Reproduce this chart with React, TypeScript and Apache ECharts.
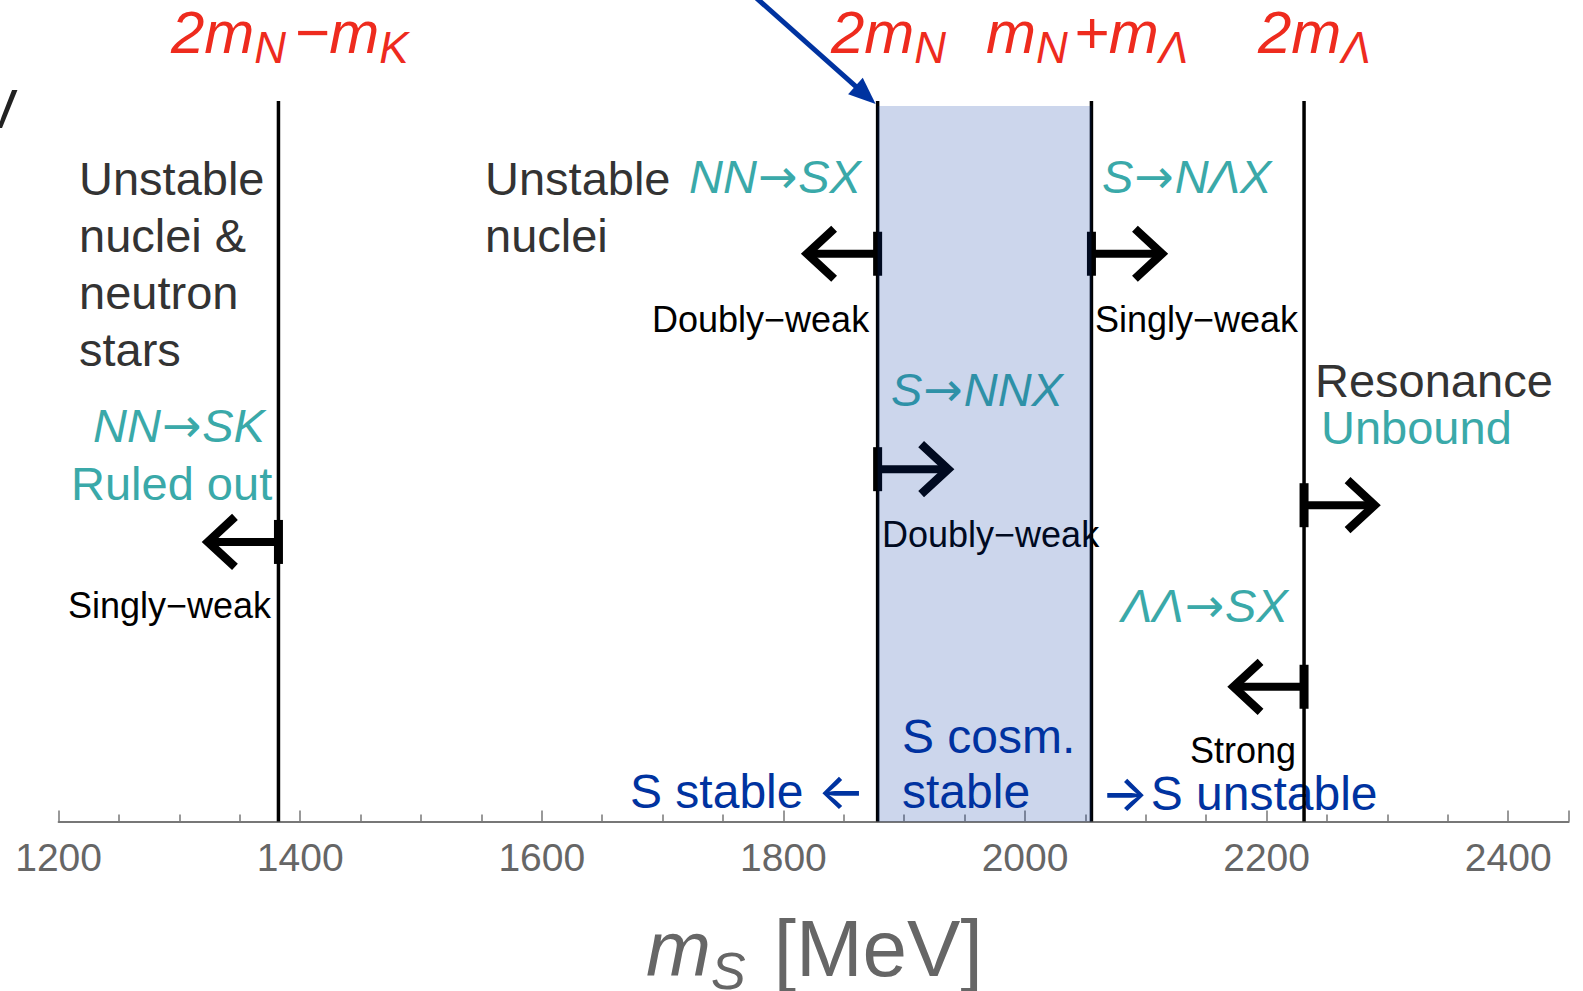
import React, { useEffect, useRef } from 'react';
import * as echarts from 'echarts';

const FONT = "'Liberation Sans', Arial, Helvetica, sans-serif";
const ARROW_FONT = "'DejaVu Sans', sans-serif";
const BIG_ARROW_FONT = "Inter, 'DejaVu Sans', sans-serif";

// ---- data ----
const X_MIN = 1200;
const X_MAX = 2450;
const X_STEP = 200;
const X_MINOR_SPLIT = 4;

// thresholds (MeV): 2mN-mK, 2mN, mN+mΛ, 2mΛ
const thresholdNames = ['2mN−mK', '2mN', 'mN+mΛ', '2mΛ'];
const thresholdMeV = [1382, 1878, 2055, 2231];

// cosmologically stable band (MeV)
const stableBand = [1878, 2055];
const bandTopLevel = 99.3; // percent of plot height

// boundary markers (|← or |→)
const markerMeV = [1382, 1878, 2055, 1878, 2231, 2231];
const markerLevel = [38.8, 78.8, 78.8, 48.9, 43.9, 18.7]; // percent of plot height
const markerDir = [-1, -1, 1, 1, 1, -1];

// ---- styles ----
const RED = '#EE2B1E';
const TEAL = '#3AA9A9';
const BLUE = '#0033A0';
const DARK = '#333333';
const GRAY = '#666666';
const CENTRAL = 0.3465;

let ctx: CanvasRenderingContext2D | null = null;
function measure(text: string, size: number, italic: boolean, family: string, weight = 'normal'): number {
  if (!ctx) ctx = document.createElement('canvas').getContext('2d');
  if (!ctx) return text.length * size * 0.55;
  ctx.font = `${italic ? 'italic ' : ''}${weight} ${size}px ${family}`;
  return ctx.measureText(text).width;
}

function txt(
  text: string, x: number, base: number, size: number, fill: string,
  italic = false, family = FONT, weight = 'normal',
) {
  return {
    type: 'text',
    x,
    y: base - CENTRAL * size,
    z: 1,
    silent: true,
    style: {
      text,
      fontSize: size,
      fontFamily: family,
      fontStyle: italic ? 'italic' : 'normal',
      fontWeight: weight,
      fill,
      align: 'left',
      verticalAlign: 'middle',
    },
  };
}

type Part = {
  t: string; size: number; dy?: number; italic?: boolean; gap?: number;
  family?: string; weight?: string;
};
function compose(parts: Part[], x0: number, base: number, fill: string) {
  let x = x0;
  const out: any[] = [];
  for (const p of parts) {
    x += p.gap || 0;
    const fam = p.family || FONT;
    const it = !!p.italic;
    const w = p.weight || 'normal';
    out.push(txt(p.t, x, base + (p.dy || 0), p.size, fill, it, fam, w));
    x += measure(p.t, p.size, it, fam, w);
  }
  return out;
}

// reaction label: italic letters with an upright arrow
function reaction(left: string, right: string, x0: number, base: number, size: number) {
  return compose([
    { t: left, size, italic: true },
    { t: '→', size, family: ARROW_FONT, gap: 1 },
    { t: right, size, italic: true, gap: 1 },
  ], x0, base, TEAL);
}

function buildGraphics() {
  const M = 60, S = 44, D = 10, B = 53;
  const red = (parts: Part[], x0: number) => compose(parts, x0, B, RED);
  const g: any[] = [];
  // threshold labels
  g.push(...red([
    { t: '2m', size: M, italic: true },
    { t: 'N', size: S, dy: D, italic: true },
    { t: '−m', size: M, italic: true, gap: 8 },
    { t: 'K', size: S, dy: D, italic: true },
  ], 171));
  g.push(...red([
    { t: '2m', size: M, italic: true },
    { t: 'N', size: S, dy: D, italic: true },
  ], 831));
  g.push(...red([
    { t: 'm', size: M, italic: true },
    { t: 'N', size: S, dy: D, italic: true },
    { t: '+m', size: M, italic: true, gap: 6 },
    { t: 'Λ', size: S, dy: D, italic: true },
  ], 986));
  g.push(...red([
    { t: '2m', size: M, italic: true },
    { t: 'Λ', size: S, dy: D, italic: true },
  ], 1258));

  // cropped letter at top-left
  g.push(txt('V', -19, 128, 55, '#222222'));

  const L = 47, SM = 36;
  // left block
  g.push(txt('Unstable', 79, 195, L, DARK));
  g.push(txt('nuclei &', 79, 252, L, DARK));
  g.push(txt('neutron', 79, 309, L, DARK));
  g.push(txt('stars', 79, 366, L, DARK));
  g.push(...reaction('NN', 'SK', 93, 442, L));
  g.push(txt('Ruled out', 71, 500, L, TEAL));
  g.push(txt('Singly−weak', 68, 618, SM, '#000'));

  // middle block
  g.push(txt('Unstable', 485, 195, L, DARK));
  g.push(txt('nuclei', 485, 252, L, DARK));
  g.push(...reaction('NN', 'SX', 689, 193, L));
  g.push(txt('Doubly−weak', 652, 332, SM, '#000'));

  // band block
  g.push(...reaction('S', 'NNX', 891, 406, L));
  g.push(txt('Doubly−weak', 882, 547, SM, '#000'));
  g.push(txt('S cosm.', 902, 753, 48, BLUE));
  g.push(txt('stable', 902, 808, 48, BLUE));

  // right of band
  g.push(...reaction('S', 'NΛX', 1102, 193, L));
  g.push(txt('Singly−weak', 1095, 332, SM, '#000'));
  g.push(txt('Resonance', 1315, 397, L, DARK));
  g.push(txt('Unbound', 1321, 444, L, TEAL));
  g.push(...reaction('ΛΛ', 'SX', 1121, 622, L));
  g.push(txt('Strong', 1190, 763, SM, '#000'));

  // bottom blue labels
  g.push(...compose([
    { t: 'S stable', size: 48 },
    { t: '←', size: 50, family: BIG_ARROW_FONT, weight: '500', gap: 14 },
  ], 630, 808, BLUE));
  g.push(...compose([
    { t: '→', size: 50, family: BIG_ARROW_FONT, weight: '500' },
    { t: 'S unstable', size: 48, gap: 2 },
  ], 1101, 810, BLUE));

  // axis title
  g.push(...compose([
    { t: 'm', size: 78, italic: true },
    { t: 'S', size: 52, dy: 13, italic: true },
    { t: '[MeV]', size: 80, gap: 28 },
  ], 646, 976, GRAY));
  return g;
}

function buildOption(): any {
  const ARROW_LEN = 76;
  return {
    animation: false,
    grid: { left: 58.6, right: 14.4, top: 101, bottom: 169.5, containLabel: false },
    xAxis: {
      type: 'value',
      min: X_MIN,
      max: X_MAX,
      interval: X_STEP,
      axisLine: { show: true, lineStyle: { color: '#777', width: 2 } },
      axisTick: { show: true, inside: true, length: 11, lineStyle: { color: '#777', width: 1.5 } },
      minorTick: { show: true, splitNumber: X_MINOR_SPLIT, length: 7, lineStyle: { color: '#777', width: 1.5 } },
      splitLine: { show: false },
      minorSplitLine: { show: false },
      axisLabel: {
        color: GRAY,
        fontSize: 39,
        fontFamily: FONT,
        margin: 16,
        showMaxLabel: false,
        formatter: (v: number) => String(v),
      },
    },
    yAxis: { type: 'value', min: 0, max: 100, show: false },
    graphic: { elements: buildGraphics() },
    series: [
      {
        type: 'custom',
        name: 'thresholds',
        z: 3,
        silent: true,
        data: thresholdMeV.map((v, i) => ({ value: [v, 0], name: thresholdNames[i] })),
        renderItem: (_p: any, api: any) => {
          const a = api.coord([api.value(0), 0]);
          const b = api.coord([api.value(0), 100]);
          return {
            type: 'line',
            shape: { x1: a[0], y1: a[1], x2: b[0], y2: b[1] },
            style: { stroke: '#000', lineWidth: 3.5 },
          };
        },
      },
      {
        type: 'custom',
        name: 'markers',
        z: 4,
        silent: true,
        data: markerMeV.map((v, i) => [v, markerLevel[i], markerDir[i]]),
        renderItem: (_p: any, api: any) => {
          const dir = api.value(2);
          const p = api.coord([api.value(0), api.value(1)]);
          const tipOuter = p[0] + dir * ARROW_LEN;
          const vx = tipOuter - dir * 5.5;
          return {
            type: 'group',
            children: [
              { type: 'rect', shape: { x: p[0] - 4.5, y: p[1] - 22, width: 9, height: 44 }, style: { fill: '#000' } },
              { type: 'line', shape: { x1: p[0], y1: p[1], x2: vx, y2: p[1] }, style: { stroke: '#000', lineWidth: 8 } },
              {
                type: 'polyline',
                shape: { points: [[vx - dir * 27, p[1] - 25], [vx, p[1]], [vx - dir * 27, p[1] + 25]] },
                style: { stroke: '#000', lineWidth: 8.5, fill: null, lineJoin: 'miter', lineCap: 'butt' },
              },
            ],
          };
        },
      },
      {
        type: 'custom',
        name: 'stable band',
        z: 6,
        silent: true,
        data: [[stableBand[0], stableBand[1]]],
        renderItem: (_p: any, api: any) => {
          const a = api.coord([api.value(0), 0]);
          const b = api.coord([api.value(1), bandTopLevel]);
          return {
            type: 'rect',
            shape: { x: a[0], y: b[1], width: b[0] - a[0], height: a[1] - b[1] },
            style: { fill: 'rgba(0,51,160,0.2)' },
          };
        },
      },
      {
        type: 'custom',
        name: 'pointer',
        z: 7,
        silent: true,
        clip: false,
        data: [[thresholdMeV[1], 100]],
        renderItem: (_p: any, api: any) => {
          const p = api.coord([api.value(0), api.value(1)]);
          const tip = [p[0] - 2, p[1] + 3];
          const ux = 0.7476, uy = 0.6645;
          const HL = 27, HW = 11;
          const base = [tip[0] - ux * HL, tip[1] - uy * HL];
          const nx = -uy, ny = ux;
          return {
            type: 'group',
            children: [
              {
                type: 'line',
                shape: { x1: tip[0] - ux * 175, y1: tip[1] - uy * 175, x2: base[0] + ux * 3, y2: base[1] + uy * 3 },
                style: { stroke: BLUE, lineWidth: 5 },
              },
              {
                type: 'polygon',
                shape: { points: [tip, [base[0] + nx * HW, base[1] + ny * HW], [base[0] - nx * HW, base[1] - ny * HW]] },
                style: { fill: BLUE },
              },
            ],
          };
        },
      },
    ],
  };
}

export default function App() {
  const ref = useRef<HTMLDivElement>(null);
  useEffect(() => {
    if (!ref.current) return;
    const chart = echarts.init(ref.current, null, { renderer: 'svg' });
    chart.setOption(buildOption());
    return () => chart.dispose();
  }, []);
  return (
    <div
      ref={ref}
      style={{ position: 'absolute', left: 0, top: 0, width: 1583, height: 991, background: '#fff' }}
    />
  );
}
